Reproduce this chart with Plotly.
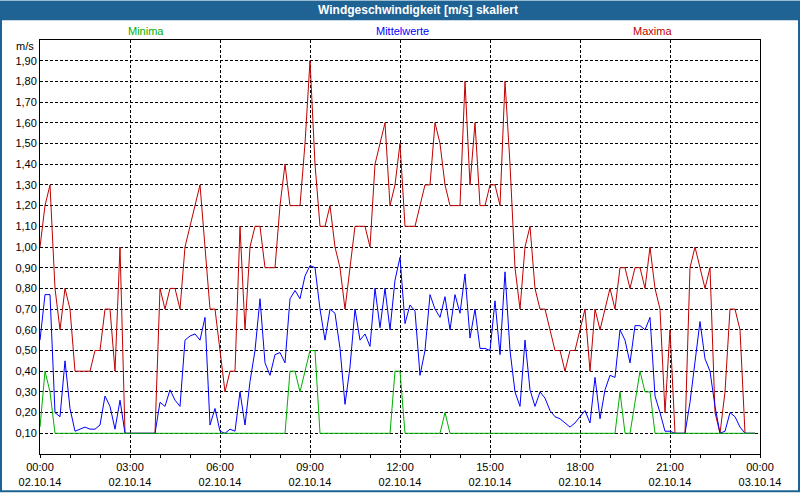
import pandas as pd
import plotly.graph_objects as go

# ---------------- data (10-minute values, 02.10.14 00:00 .. 23:50) ----------------
start_time = "2014-10-02 00:00"
n_points = 144
times = pd.date_range(start_time, periods=n_points, freq="10min")

maxima = [
    1.0, 1.2, 1.3, 0.8, 0.6, 0.8, 0.7, 0.4, 0.4, 0.4,
    0.4, 0.5, 0.5, 0.7, 0.7, 0.4, 1.0, 0.1, 0.1, 0.1,
    0.1, 0.1, 0.1, 0.1, 0.8, 0.7, 0.8, 0.8, 0.7, 1.0,
    1.1, 1.2, 1.3, 1.0, 0.7, 0.7, 0.5, 0.3, 0.4, 0.4,
    1.1, 0.6, 1.0, 1.1, 1.1, 0.9, 0.9, 0.9, 1.2, 1.4,
    1.2, 1.2, 1.2, 1.5, 1.9, 1.4, 1.1, 1.1, 1.2, 1.0,
    0.9, 0.7, 0.9, 1.1, 1.1, 1.1, 1.0, 1.4, 1.5, 1.6,
    1.2, 1.3, 1.5, 1.1, 1.1, 1.1, 1.2, 1.3, 1.3, 1.6,
    1.5, 1.3, 1.2, 1.2, 1.2, 1.8, 1.3, 1.6, 1.2, 1.2,
    1.3, 1.3, 1.2, 1.8, 1.4, 0.9, 0.7, 1.0, 1.1, 0.8,
    0.7, 0.7, 0.6, 0.5, 0.5, 0.4, 0.5, 0.5, 0.6, 0.7,
    0.4, 0.7, 0.6, 0.7, 0.8, 0.7, 0.9, 0.9, 0.8, 0.9,
    0.9, 0.8, 1.0, 0.8, 0.7, 0.2, 0.6, 0.1, 0.1, 0.1,
    0.9, 1.0, 0.9, 0.8, 0.9, 0.2, 0.1, 0.3, 0.7, 0.7,
    0.6, 0.1, 0.1, 0.1,
]

mittelwerte = [
    0.55, 0.77, 0.77, 0.20, 0.18, 0.45, 0.22, 0.11, 0.12, 0.13,
    0.12, 0.12, 0.14, 0.28, 0.23, 0.12, 0.26, 0.10, 0.10, 0.10,
    0.10, 0.10, 0.10, 0.10, 0.25, 0.23, 0.31, 0.26, 0.23, 0.55,
    0.57, 0.58, 0.55, 0.66, 0.14, 0.22, 0.11, 0.10, 0.12, 0.11,
    0.30, 0.14, 0.35, 0.50, 0.75, 0.44, 0.38, 0.48, 0.49, 0.44,
    0.75, 0.79, 0.75, 0.86, 0.91, 0.90, 0.70, 0.55, 0.70, 0.68,
    0.51, 0.24, 0.42, 0.70, 0.55, 0.58, 0.52, 0.80, 0.61, 0.80,
    0.60, 0.84, 0.95, 0.63, 0.72, 0.69, 0.38, 0.50, 0.77, 0.70,
    0.66, 0.76, 0.60, 0.77, 0.68, 0.87, 0.56, 0.70, 0.51, 0.51,
    0.50, 0.74, 0.48, 0.88, 0.50, 0.30, 0.23, 0.55, 0.31, 0.23,
    0.30, 0.27, 0.21, 0.18, 0.17, 0.15, 0.13, 0.15, 0.18, 0.21,
    0.15, 0.37, 0.17, 0.31, 0.38, 0.37, 0.60, 0.55, 0.44, 0.62,
    0.62, 0.60, 0.66, 0.28, 0.20, 0.11, 0.11, 0.10, 0.10, 0.10,
    0.25, 0.45, 0.64, 0.46, 0.40, 0.23, 0.10, 0.11, 0.20, 0.18,
    0.13, 0.10, 0.10, 0.10,
]

minima = [
    0.13, 0.4, 0.3, 0.1, 0.1, 0.1, 0.1, 0.1, 0.1, 0.1,
    0.1, 0.1, 0.1, 0.1, 0.1, 0.1, 0.1, 0.1, 0.1, 0.1,
    0.1, 0.1, 0.1, 0.1, 0.1, 0.1, 0.1, 0.1, 0.1, 0.1,
    0.1, 0.1, 0.1, 0.1, 0.1, 0.1, 0.1, 0.1, 0.1, 0.1,
    0.1, 0.1, 0.1, 0.1, 0.1, 0.1, 0.1, 0.1, 0.1, 0.1,
    0.4, 0.4, 0.3, 0.4, 0.5, 0.5, 0.1, 0.1, 0.1, 0.1,
    0.1, 0.1, 0.1, 0.1, 0.1, 0.1, 0.1, 0.1, 0.1, 0.1,
    0.1, 0.4, 0.4, 0.1, 0.1, 0.1, 0.1, 0.1, 0.1, 0.1,
    0.1, 0.2, 0.1, 0.1, 0.1, 0.1, 0.1, 0.1, 0.1, 0.1,
    0.1, 0.1, 0.1, 0.1, 0.1, 0.1, 0.1, 0.1, 0.1, 0.1,
    0.1, 0.1, 0.1, 0.1, 0.1, 0.1, 0.1, 0.1, 0.1, 0.1,
    0.1, 0.1, 0.1, 0.1, 0.1, 0.1, 0.3, 0.1, 0.1, 0.25,
    0.4, 0.3, 0.3, 0.1, 0.1, 0.1, 0.1, 0.1, 0.1, 0.1,
    0.1, 0.1, 0.1, 0.1, 0.1, 0.1, 0.1, 0.1, 0.1, 0.1,
    0.1, 0.1, 0.1, 0.1,
]

y_tick_values = [0.1, 0.2, 0.3, 0.4, 0.5, 0.6, 0.7, 0.8, 0.9, 1.0,
                 1.1, 1.2, 1.3, 1.4, 1.5, 1.6, 1.7, 1.8, 1.9]
y_tick_labels = ["0,10", "0,20", "0,30", "0,40", "0,50", "0,60", "0,70", "0,80", "0,90", "1,00",
                 "1,10", "1,20", "1,30", "1,40", "1,50", "1,60", "1,70", "1,80", "1,90"]

title_text = "Windgeschwindigkeit [m/s] skaliert"
unit_text = "m/s"
series_names = ["Minima", "Mittelwerte", "Maxima"]

# ---------------- styling ----------------
FONT = "Liberation Sans"
C_MAX = "#c00000"
C_MEAN = "#0000ff"
C_MIN = "#00b000"
C_BAR = "#1f6394"

W, H = 800, 500
ML, MR, MT, MB = 40, 40, 40, 39
PW, PH = W - ML - MR, H - MT - MB


def px_x(px):
    return (px - ML) / PW


def px_y(py):
    return (H - MB - py) / PH


fig = go.Figure()
fig.add_trace(go.Scatter(x=times, y=maxima, mode="lines", name=series_names[2],
                         line=dict(color=C_MAX, width=1), hoverinfo="x+y"))
fig.add_trace(go.Scatter(x=times, y=mittelwerte, mode="lines", name=series_names[1],
                         line=dict(color=C_MEAN, width=1), hoverinfo="x+y"))
fig.add_trace(go.Scatter(x=times, y=minima, mode="lines", name=series_names[0],
                         line=dict(color=C_MIN, width=1), hoverinfo="x+y"))

fig.update_layout(
    width=W, height=H,
    margin=dict(l=ML, r=MR, t=MT, b=MB, pad=0),
    paper_bgcolor="white", plot_bgcolor="white",
    showlegend=False,
    font=dict(family=FONT, size=11, color="black"),
    xaxis=dict(
        type="date",
        range=["2014-10-02 00:00", "2014-10-03 00:00"],
        tickmode="linear", tick0="2014-10-02 00:00", dtick=3 * 3600000,
        tickformat="%H:%M<br>%d.%m.%y",
        ticks="outside", ticklen=3, tickcolor="black", tickwidth=1,
        showgrid=True, gridcolor="black", gridwidth=1, griddash="3px,2px",
        minor=dict(dtick=3600000, ticks="outside", ticklen=3, tickcolor="black",
                   showgrid=False),
        showline=True, linecolor="black", linewidth=1, mirror=True,
        zeroline=False, fixedrange=True,
        tickfont=dict(family=FONT, size=11, color="black"),
    ),
    yaxis=dict(
        range=[0, 2.0],
        tickmode="array", tickvals=y_tick_values, ticktext=y_tick_labels,
        ticks="", showgrid=True, gridcolor="black", gridwidth=1, griddash="3px,2px",
        showline=True, linecolor="black", linewidth=1, mirror=True,
        zeroline=False, fixedrange=True,
        tickfont=dict(family=FONT, size=11, color="black"),
    ),
)

shapes = [
    # title bar
    dict(type="rect", xref="paper", yref="paper",
         x0=px_x(0), x1=px_x(W), y0=px_y(20), y1=px_y(0),
         fillcolor=C_BAR, line=dict(width=0), layer="below"),
    # outer frame
    dict(type="rect", xref="paper", yref="paper",
         x0=px_x(1), x1=px_x(W - 1), y0=px_y(H - 1), y1=px_y(1),
         fillcolor="rgba(0,0,0,0)", line=dict(color=C_BAR, width=2), layer="above"),
]
fig.update_layout(shapes=shapes)

annotations = [
    dict(text="<b>" + title_text + "</b>", xref="paper", yref="paper",
         x=px_x(418), y=px_y(10), xanchor="center", yanchor="middle",
         showarrow=False, font=dict(family=FONT, size=12, color="white")),
    dict(text=series_names[0], xref="paper", yref="paper",
         x=px_x(146), y=px_y(31), xanchor="center", yanchor="middle",
         showarrow=False, font=dict(family=FONT, size=11, color=C_MIN)),
    dict(text=series_names[1], xref="paper", yref="paper",
         x=px_x(402), y=px_y(31), xanchor="center", yanchor="middle",
         showarrow=False, font=dict(family=FONT, size=11, color=C_MEAN)),
    dict(text=series_names[2], xref="paper", yref="paper",
         x=px_x(652), y=px_y(31), xanchor="center", yanchor="middle",
         showarrow=False, font=dict(family=FONT, size=11, color=C_MAX)),
    dict(text=unit_text, xref="paper", yref="paper",
         x=px_x(36), y=px_y(46), xanchor="right", yanchor="middle",
         showarrow=False, font=dict(family=FONT, size=11, color="black")),
]
fig.update_layout(annotations=annotations)

fig.write_html("out.html")
